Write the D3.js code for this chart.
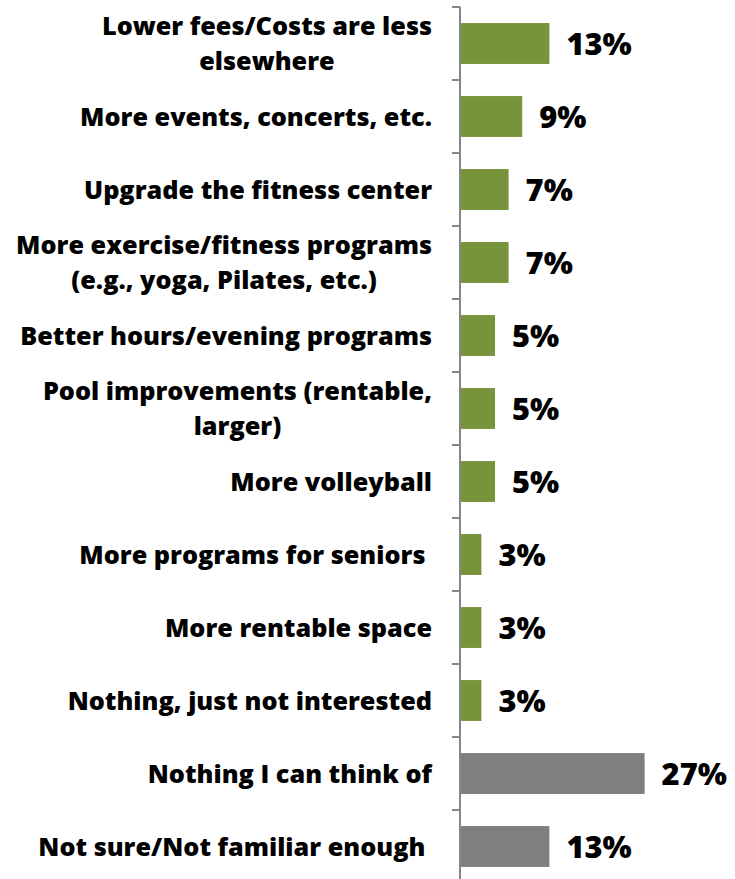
<!DOCTYPE html>
<html>
<head>
<meta charset="utf-8">
<script src="https://cdn.jsdelivr.net/npm/d3@7"></script>
<style>
  html, body { margin: 0; padding: 0; background: #fff; overflow: hidden; }
  svg text { font-family: "Open Sans", "DejaVu Sans", sans-serif; font-weight: 800; fill: #000; white-space: pre; }
</style>
</head>
<body>
<svg id="chart" width="735" height="879"></svg>
<script>
// Responses: what would make people use the facility more
const categories = [
  "Lower fees/Costs are less\nelsewhere",
  "More events, concerts, etc.",
  "Upgrade the fitness center",
  "More exercise/fitness programs\n(e.g., yoga, Pilates, etc.)",
  "Better hours/evening programs",
  "Pool improvements (rentable,\nlarger)",
  "More volleyball",
  "More programs for seniors ",
  "More rentable space",
  "Nothing, just not interested",
  "Nothing I can think of",
  "Not sure/Not familiar enough "
];
const values = [13, 9, 7, 7, 5, 5, 5, 3, 3, 3, 27, 13];
const groups = ["idea", "idea", "idea", "idea", "idea", "idea", "idea", "idea", "idea", "idea", "none", "none"];
const groupColors = { idea: "#77933C", none: "#7F7F7F" };

const svg = d3.select("#chart");

const axisX = 460;
const labelRight = 432;

const x = d3.scaleLinear().domain([0, 30]).range([axisX + 1, axisX + 1 + 204]);
const y = d3.scaleBand()
  .domain(categories)
  .range([7, 883])
  .paddingInner(0.44)
  .paddingOuter(0.22);

// Fit the label font so the widest category line spans its column
const probe = svg.append("text").attr("font-size", 20).text("More exercise/fitness programs");
const probeW = probe.node().getComputedTextLength();
probe.remove();
const fs = 20 * 416 / probeW;
const lineH = 35;

// Axis line with ticks at category boundaries
const gap = (y.step() - y.bandwidth()) / 2;
const bounds = categories.map(c => y(c) - gap).concat([y(categories[categories.length - 1]) + y.bandwidth() + gap]);
svg.append("line")
  .attr("x1", axisX).attr("x2", axisX)
  .attr("y1", bounds[0]).attr("y2", bounds[bounds.length - 1])
  .attr("stroke", "#868686").attr("stroke-width", 2);
svg.selectAll("line.tick").data(bounds).join("line")
  .attr("class", "tick")
  .attr("x1", axisX - 8).attr("x2", axisX)
  .attr("y1", d => d).attr("y2", d => d)
  .attr("stroke", "#868686").attr("stroke-width", 2);

// Bars
svg.selectAll("rect.bar").data(categories).join("rect")
  .attr("class", "bar")
  .attr("x", x(0))
  .attr("y", c => y(c))
  .attr("width", (c, i) => x(values[i]) - x(0))
  .attr("height", y.bandwidth())
  .attr("fill", (c, i) => groupColors[groups[i]]);

// Category labels: block right-aligned, lines centred within the block
categories.forEach(c => {
  const lines = c.split("\n");
  const cy = y(c) + y.bandwidth() / 2;
  const g = svg.append("g");
  const texts = lines.map(l => g.append("text").attr("font-size", fs).text(l));
  const widths = texts.map(t => t.node().getComputedTextLength());
  const blockW = d3.max(widths);
  const mid = labelRight - blockW / 2;
  const top = cy - (lines.length - 1) * lineH / 2;
  texts.forEach((t, k) => {
    t.attr("text-anchor", "middle")
     .attr("x", mid)
     .attr("y", top + k * lineH + fs * 0.36);
  });
});

// Value labels
const vfs = fs * 1.22;
svg.selectAll("text.val").data(categories).join("text")
  .attr("class", "val")
  .attr("font-size", vfs)
  .attr("x", (c, i) => x(values[i]) + 17)
  .attr("y", c => y(c) + y.bandwidth() / 2 + vfs * 0.38)
  .text((c, i) => values[i] + "%");
</script>
</body>
</html>
